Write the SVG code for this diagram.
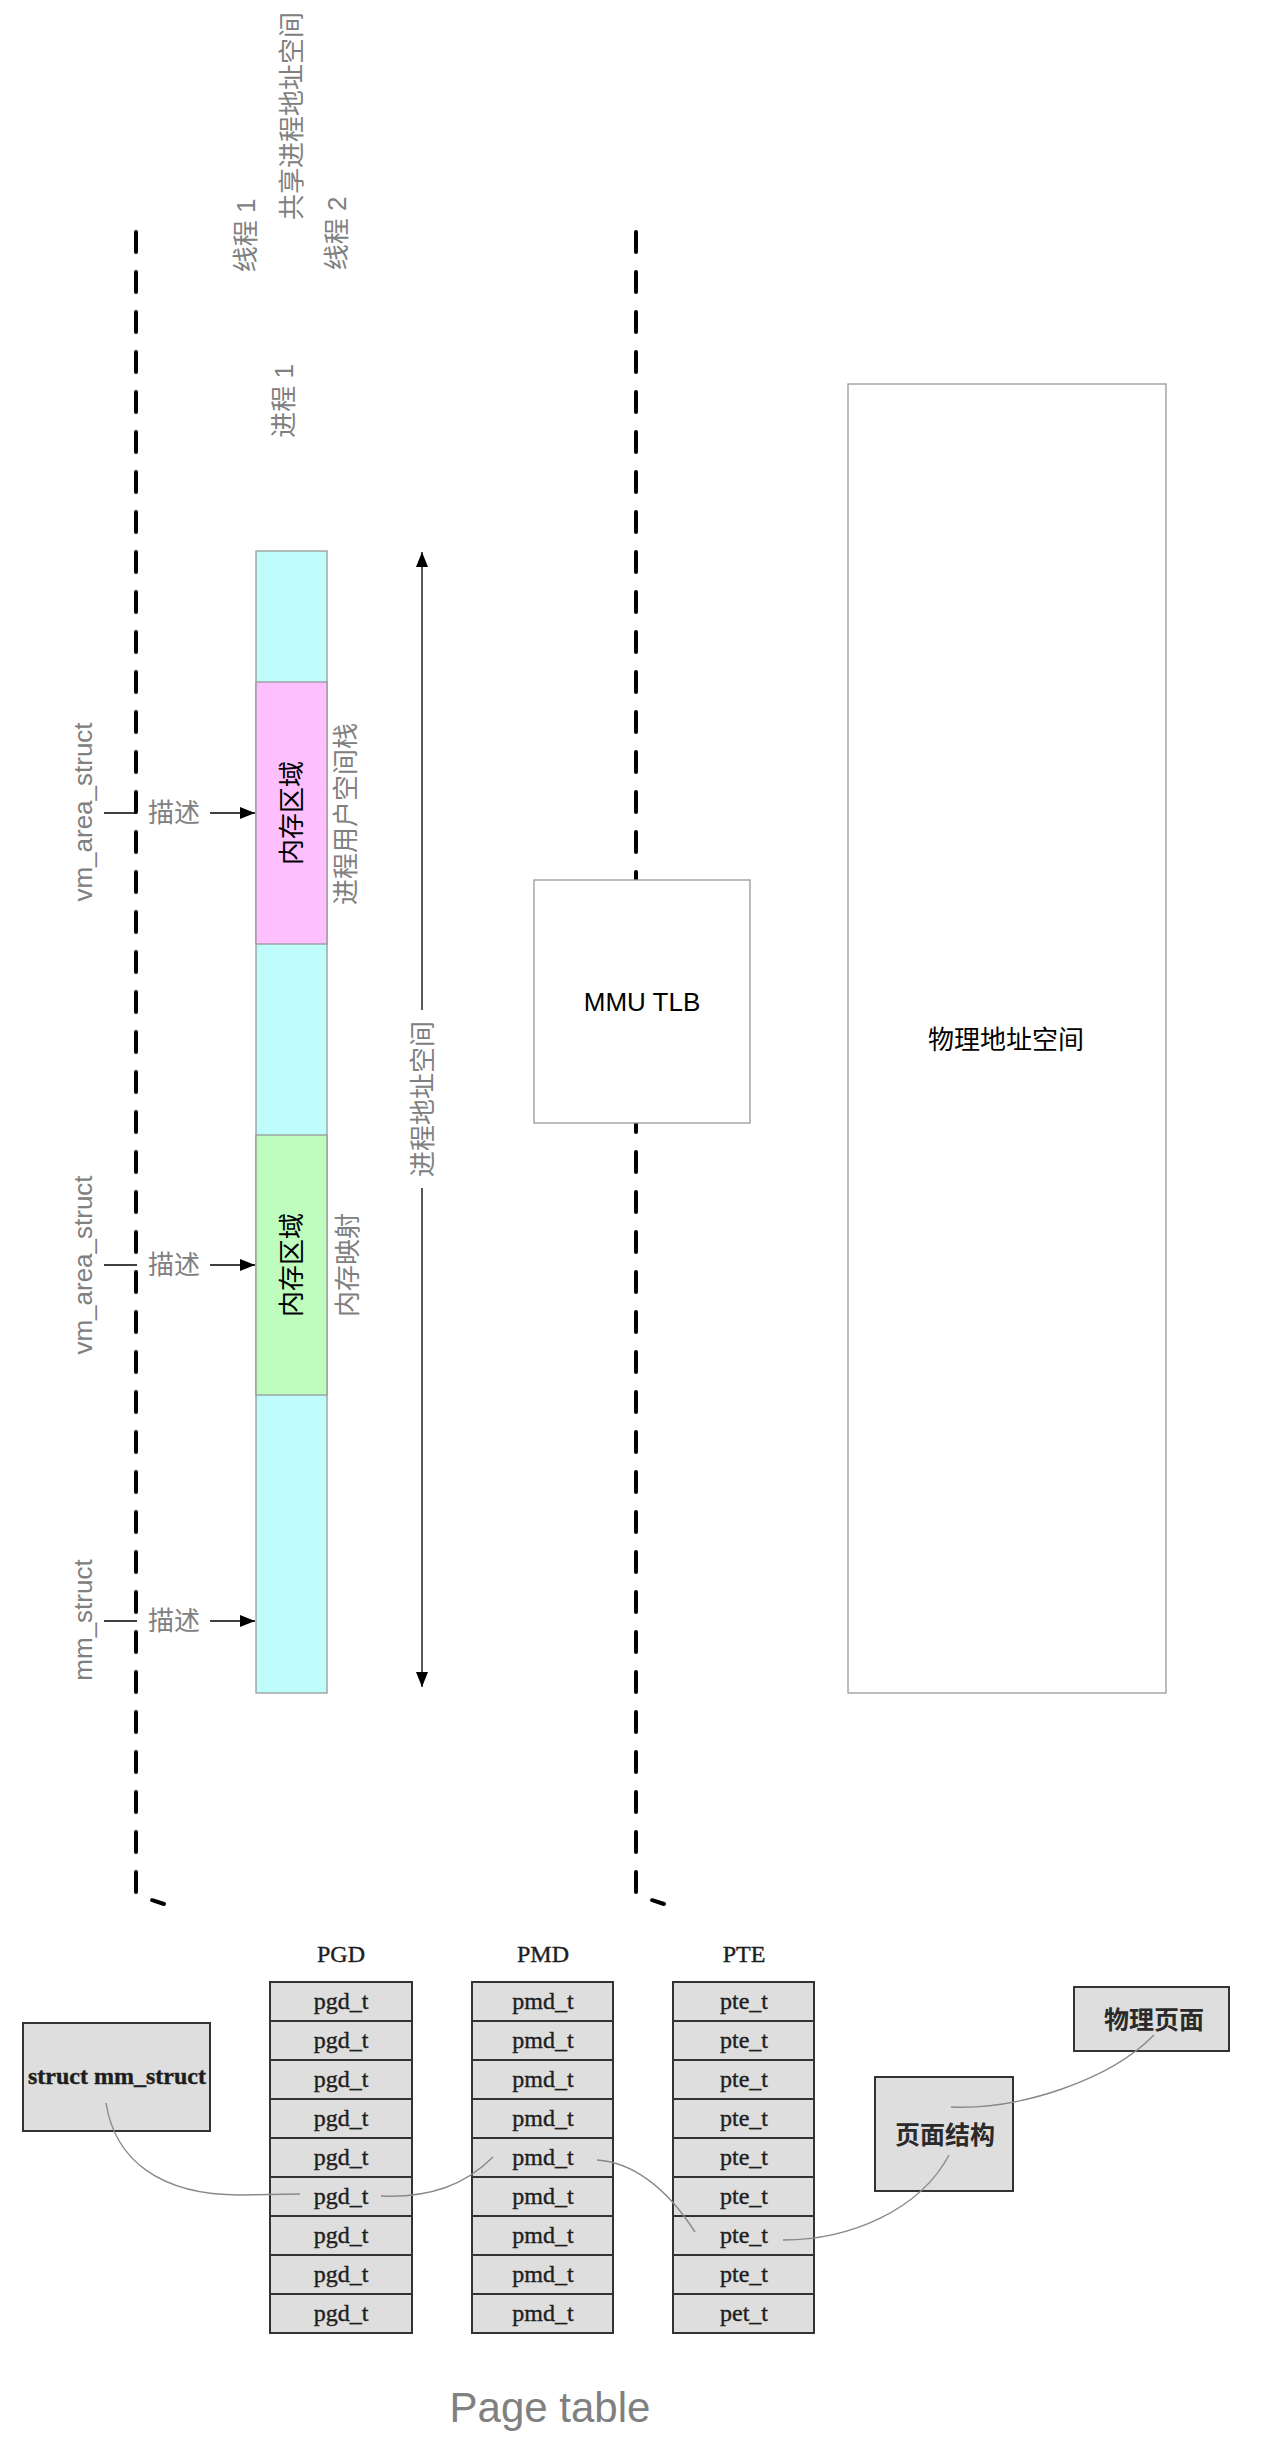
<svg xmlns="http://www.w3.org/2000/svg" width="1284" height="2443" viewBox="0 0 1284 2443">
<style>
  .lbl { font-family: "Liberation Sans", "Noto Sans CJK SC", sans-serif; font-size: 26px; fill: #808080; text-anchor: middle; dominant-baseline: central; }
  .blk { font-family: "Liberation Sans", "Noto Sans CJK SC", sans-serif; font-size: 26px; fill: #000000; text-anchor: middle; dominant-baseline: central; }
  .box { stroke: #999999; stroke-width: 1.3; }
  .dash { fill: none; stroke: #000000; stroke-width: 4; stroke-dasharray: 20 20; stroke-linecap: round; }
  .edge { fill: none; stroke: #000000; stroke-width: 1.3; }
  .pt { fill: #dedede; stroke: #333333; stroke-width: 2; }
  .ptt { font-family: "Liberation Serif", "Times New Roman", serif; font-size: 24px; fill: #1e1e1e; stroke: #1e1e1e; stroke-width: 0.4; text-anchor: middle; }
  .ptc { font-family: "Noto Sans CJK SC", sans-serif; font-size: 25px; font-weight: bold; fill: #2a2a2a; text-anchor: middle; dominant-baseline: central; }
  .curve { fill: none; stroke: #8a8a8a; stroke-width: 1.4; }
</style>
<defs>
  <marker id="arr" markerUnits="userSpaceOnUse" markerWidth="15" markerHeight="12" viewBox="0 0 15 12" refX="15" refY="6" orient="auto-start-reverse">
    <path d="M0,0 L15,6 L0,12 Z" fill="#000000"/>
  </marker>
</defs>
<rect x="0" y="0" width="1284" height="2443" fill="#ffffff"/>

<g id="boundaries">
  <path class="dash" d="M136,232 V1895 L164,1904"/>
  <path class="dash" d="M636,232 V1895 L664,1904"/>
</g>

<g id="top-labels">
  <text class="lbl" transform="rotate(-90 245.5 235.5)" x="245.5" y="235.5">线程 1</text>
  <text class="lbl" transform="rotate(-90 292 116)" x="292" y="116">共享进程地址空间</text>
  <text class="lbl" transform="rotate(-90 337 233.5)" x="337" y="233.5">线程 2</text>
  <text class="lbl" transform="rotate(-90 283.5 401)" x="283.5" y="401">进程 1</text>
</g>

<g id="process-space">
  <rect class="box" x="256" y="551" width="71" height="1142" fill="#bffcfc"/>
  <rect class="box" x="256" y="682" width="71" height="262" fill="#fdbffd"/>
  <rect class="box" x="256" y="1135" width="71" height="260" fill="#bffdbf"/>
</g>
<g id="region-stack">
  <text class="blk" transform="rotate(-90 292 813)" x="292" y="813">内存区域</text>
  <text class="lbl" transform="rotate(-90 346 814)" x="346" y="814">进程用户空间栈</text>
</g>
<g id="region-mmap">
  <text class="blk" transform="rotate(-90 292 1265)" x="292" y="1265">内存区域</text>
  <text class="lbl" transform="rotate(-90 348 1265)" x="348" y="1265">内存映射</text>
</g>

<g id="struct-labels">
  <text class="lbl" transform="rotate(-90 83 812)" x="83" y="812">vm_area_struct</text>
  <text class="lbl" transform="rotate(-90 83 1265)" x="83" y="1265">vm_area_struct</text>
  <text class="lbl" transform="rotate(-90 83 1620)" x="83" y="1620">mm_struct</text>
</g>

<g id="connectors">
  <line class="edge" x1="104" y1="813" x2="137" y2="813"/>
  <line class="edge" x1="210" y1="813" x2="255" y2="813" marker-end="url(#arr)"/>
  <line class="edge" x1="104" y1="1265" x2="137" y2="1265"/>
  <line class="edge" x1="210" y1="1265" x2="255" y2="1265" marker-end="url(#arr)"/>
  <line class="edge" x1="104" y1="1621" x2="137" y2="1621"/>
  <line class="edge" x1="210" y1="1621" x2="255" y2="1621" marker-end="url(#arr)"/>
  <line class="edge" x1="422" y1="552" x2="422" y2="1687" marker-start="url(#arr)" marker-end="url(#arr)"/>
  <rect x="410" y="1010" width="24" height="178" fill="#ffffff"/>
</g>
<g id="edge-labels">
  <text class="lbl" x="174" y="813">描述</text>
  <text class="lbl" x="174" y="1265">描述</text>
  <text class="lbl" x="174" y="1621">描述</text>
  <text class="lbl" transform="rotate(-90 423 1099)" x="423" y="1099">进程地址空间</text>
</g>

<g id="mmu-tlb">
  <rect class="box" x="534" y="880" width="216" height="243" fill="#ffffff"/>
  <text class="blk" x="642" y="1002">MMU TLB</text>
</g>
<g id="physical-space">
  <rect class="box" x="848" y="384" width="318" height="1309" fill="#ffffff"/>
  <text class="blk" x="1006" y="1040">物理地址空间</text>
</g>

<g id="page-table">
  <g id="mm-struct-box">
    <rect class="pt" x="23" y="2023" width="187" height="108"/>
    <text class="ptt" x="117" y="2084" font-weight="bold" font-size="23">struct mm_struct</text>
  </g>
  <g id="pgd">
    <text class="ptt" x="341" y="1962">PGD</text>
    <rect class="pt" x="270" y="1982" width="142" height="39"/>
    <rect class="pt" x="270" y="2021" width="142" height="39"/>
    <rect class="pt" x="270" y="2060" width="142" height="39"/>
    <rect class="pt" x="270" y="2099" width="142" height="39"/>
    <rect class="pt" x="270" y="2138" width="142" height="39"/>
    <rect class="pt" x="270" y="2177" width="142" height="39"/>
    <rect class="pt" x="270" y="2216" width="142" height="39"/>
    <rect class="pt" x="270" y="2255" width="142" height="39"/>
    <rect class="pt" x="270" y="2294" width="142" height="39"/>
    <text class="ptt" x="341" y="2008.5">pgd_t</text>
    <text class="ptt" x="341" y="2047.5">pgd_t</text>
    <text class="ptt" x="341" y="2086.5">pgd_t</text>
    <text class="ptt" x="341" y="2125.5">pgd_t</text>
    <text class="ptt" x="341" y="2164.5">pgd_t</text>
    <text class="ptt" x="341" y="2203.5">pgd_t</text>
    <text class="ptt" x="341" y="2242.5">pgd_t</text>
    <text class="ptt" x="341" y="2281.5">pgd_t</text>
    <text class="ptt" x="341" y="2320.5">pgd_t</text>
  </g>
  <g id="pmd">
    <text class="ptt" x="543" y="1962">PMD</text>
    <rect class="pt" x="472" y="1982" width="141" height="39"/>
    <rect class="pt" x="472" y="2021" width="141" height="39"/>
    <rect class="pt" x="472" y="2060" width="141" height="39"/>
    <rect class="pt" x="472" y="2099" width="141" height="39"/>
    <rect class="pt" x="472" y="2138" width="141" height="39"/>
    <rect class="pt" x="472" y="2177" width="141" height="39"/>
    <rect class="pt" x="472" y="2216" width="141" height="39"/>
    <rect class="pt" x="472" y="2255" width="141" height="39"/>
    <rect class="pt" x="472" y="2294" width="141" height="39"/>
    <text class="ptt" x="543" y="2008.5">pmd_t</text>
    <text class="ptt" x="543" y="2047.5">pmd_t</text>
    <text class="ptt" x="543" y="2086.5">pmd_t</text>
    <text class="ptt" x="543" y="2125.5">pmd_t</text>
    <text class="ptt" x="543" y="2164.5">pmd_t</text>
    <text class="ptt" x="543" y="2203.5">pmd_t</text>
    <text class="ptt" x="543" y="2242.5">pmd_t</text>
    <text class="ptt" x="543" y="2281.5">pmd_t</text>
    <text class="ptt" x="543" y="2320.5">pmd_t</text>
  </g>
  <g id="pte">
    <text class="ptt" x="744" y="1962">PTE</text>
    <rect class="pt" x="673" y="1982" width="141" height="39"/>
    <rect class="pt" x="673" y="2021" width="141" height="39"/>
    <rect class="pt" x="673" y="2060" width="141" height="39"/>
    <rect class="pt" x="673" y="2099" width="141" height="39"/>
    <rect class="pt" x="673" y="2138" width="141" height="39"/>
    <rect class="pt" x="673" y="2177" width="141" height="39"/>
    <rect class="pt" x="673" y="2216" width="141" height="39"/>
    <rect class="pt" x="673" y="2255" width="141" height="39"/>
    <rect class="pt" x="673" y="2294" width="141" height="39"/>
    <text class="ptt" x="744" y="2008.5">pte_t</text>
    <text class="ptt" x="744" y="2047.5">pte_t</text>
    <text class="ptt" x="744" y="2086.5">pte_t</text>
    <text class="ptt" x="744" y="2125.5">pte_t</text>
    <text class="ptt" x="744" y="2164.5">pte_t</text>
    <text class="ptt" x="744" y="2203.5">pte_t</text>
    <text class="ptt" x="744" y="2242.5">pte_t</text>
    <text class="ptt" x="744" y="2281.5">pte_t</text>
    <text class="ptt" x="744" y="2320.5">pet_t</text>
  </g>
  <g id="page-struct">
    <rect class="pt" x="875" y="2077" width="138" height="114"/>
    <text class="ptc" x="945" y="2133">页面结构</text>
  </g>
  <g id="physical-page">
    <rect class="pt" x="1074" y="1987" width="155" height="64"/>
    <text class="ptc" x="1154" y="2018">物理页面</text>
  </g>
  <g id="page-table-links">
    <path class="curve" d="M106,2103 C115,2160 160,2195 240,2195 L300,2194"/>
    <path class="curve" d="M381,2196 C430,2198 465,2185 493,2157"/>
    <path class="curve" d="M597,2160 C630,2162 665,2185 695,2232"/>
    <path class="curve" d="M783,2240 C850,2240 920,2210 949,2155"/>
    <path class="curve" d="M951,2107 C1020,2110 1110,2080 1154,2035"/>
  </g>
</g>

<g id="caption">
  <text x="550" y="2422" font-family="Liberation Sans, Arial, sans-serif" font-size="42" fill="#808080" text-anchor="middle">Page table</text>
</g>
</svg>
